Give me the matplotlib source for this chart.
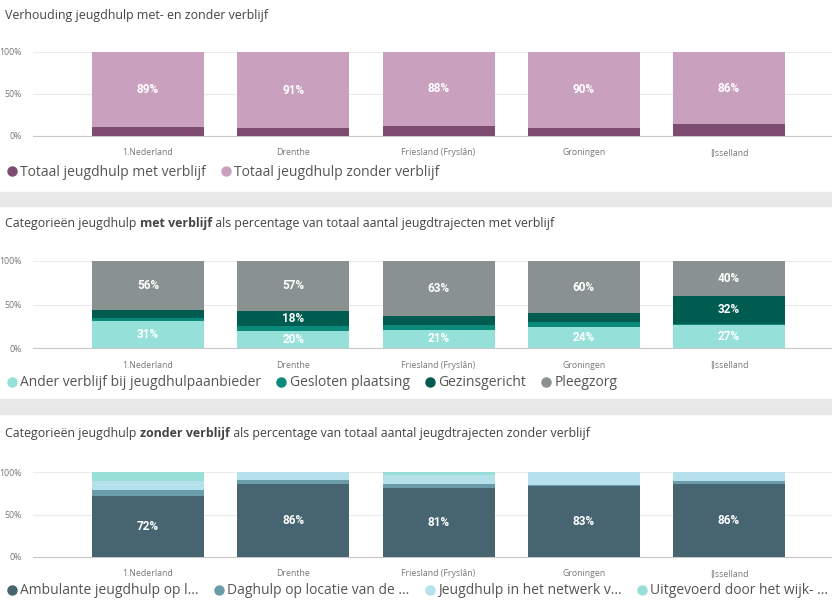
import matplotlib.pyplot as plt
from matplotlib.patches import Rectangle
from matplotlib.lines import Line2D
import numpy as np

W, H = 832, 609

regions = ['1.Nederland', 'Drenthe', 'Friesland (Fryslân)', 'Groningen', 'IJsselland']

# panel 1: verhouding met / zonder verblijf
met_verblijf = [11, 9, 12, 10, 14]
zonder_verblijf = [89, 91, 88, 90, 86]

# panel 2: categorieen met verblijf
ander_verblijf = [31, 20, 21, 24, 27]
gesloten = [4, 5, 6, 6, 1]
gezinsgericht = [9, 18, 10, 10, 32]
pleegzorg = [56, 57, 63, 60, 40]

# panel 3: categorieen zonder verblijf
ambulante = [72, 86, 81, 83, 86]
daghulp = [7, 5, 5, 2, 3]
netwerk = [11, 9, 10, 15, 11]
uitgevoerd = [10, 0, 4, 0, 0]

plt.rcParams['font.family'] = ['Open Sans', 'DejaVu Sans']

fig = plt.figure(figsize=(W / 100, H / 100), dpi=100)
fig.patch.set_facecolor('white')

# grey separator bands
for y0, y1 in [(192, 206), (399, 414)]:
    fig.patches.append(Rectangle((0, 1 - y1 / H), 1, (y1 - y0) / H,
                                 transform=fig.transFigure, color='#E8E8E8', zorder=0))


def title(parts, ypix):
    # draw title text in pieces (normal/bold)
    r = fig.canvas.get_renderer()
    x = 5
    for txt, weight in parts:
        t = fig.text(x / W, 1 - ypix / H, txt, fontsize=8.9, color='#444444',
                     fontweight=weight, va='center', ha='left')
        bb = t.get_window_extent(renderer=r)
        x += bb.width


def panel(top, bottom, series, names, colors, legend_y):
    ax = fig.add_axes([33 / W, 1 - bottom / H, 1 - 33 / W, (bottom - top) / H])
    x = np.arange(len(regions))
    base = np.zeros(len(regions))
    for vals, c in zip(series, colors):
        vals = np.array(vals, dtype=float)
        ax.bar(x, vals, 0.771, bottom=base, color=c, zorder=3)
        for xi, b, v in zip(x, base, vals):
            if v >= 16:
                ax.text(xi, b + v / 2, f'{int(v)}%', ha='center', va='center',
                        color='white', fontsize=8.5, fontweight='bold',
                        family='Roboto', zorder=4)
        base += vals
    ax.set_xlim(-0.792, 4.709)
    ax.set_ylim(0, 100)
    ax.set_yticks([0, 50, 100])
    ax.set_yticklabels(['0%', '50%', '100%'])
    ax.set_xticks(x)
    ax.set_xticklabels(regions)
    ax.tick_params(length=0, labelsize=6.3, labelcolor='#777777')
    ax.tick_params(axis='y', pad=8)
    ax.tick_params(axis='x', pad=9)
    for s in ['top', 'right', 'left']:
        ax.spines[s].set_visible(False)
    ax.spines['bottom'].set_color('#C8C8C8')
    ax.grid(axis='y', color='#EBEBEB', lw=0.8, zorder=0)
    ax.set_axisbelow(True)
    handles = [Line2D([], [], marker='o', ls='', color=c, markersize=6.5) for c in colors]
    fig.legend(handles, names, loc='center left', bbox_to_anchor=(0, 1 - legend_y / H),
               frameon=False, fontsize=10, labelcolor='#555555', ncol=len(names),
               handletextpad=0.15, columnspacing=1.0, handlelength=0.9, borderaxespad=0)
    return ax


title([('Verhouding jeugdhulp met- en zonder verblijf', 'normal')], 15)
panel(52, 136, [met_verblijf, zonder_verblijf],
      ['Totaal jeugdhulp met verblijf', 'Totaal jeugdhulp zonder verblijf'],
      ['#7E4C71', '#C9A1BF'], 172)

title([('Categorieën jeugdhulp ', 'normal'), ('met verblijf', 'bold'),
       (' als percentage van totaal aantal jeugdtrajecten met verblijf', 'normal')], 224)
panel(261, 348, [ander_verblijf, gesloten, gezinsgericht, pleegzorg],
      ['Ander verblijf bij jeugdhulpaanbieder', 'Gesloten plaatsing', 'Gezinsgericht', 'Pleegzorg'],
      ['#95E0D9', '#0B8A7B', '#005B51', '#899191'], 383)

title([('Categorieën jeugdhulp ', 'normal'), ('zonder verblijf', 'bold'),
       (' als percentage van totaal aantal jeugdtrajecten zonder verblijf', 'normal')], 433)
panel(472, 557, [ambulante, daghulp, netwerk, uitgevoerd],
      ['Ambulante jeugdhulp op l...', 'Daghulp op locatie van de ...',
       'Jeugdhulp in het netwerk v...', 'Uitgevoerd door het wijk- ...'],
      ['#466571', '#6A9DA9', '#B4E1EB', '#97DFD7'], 591)

fig.savefig('out.png', dpi=100, facecolor='white')
